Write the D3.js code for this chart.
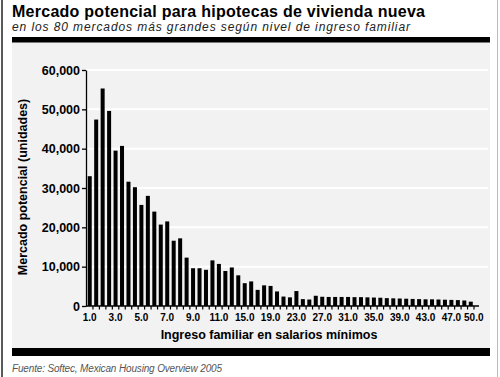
<!DOCTYPE html>
<html>
<head>
<meta charset="utf-8">
<script src="https://cdn.jsdelivr.net/npm/d3@7"></script>
<style>
  html, body { margin: 0; padding: 0; background: #fff; }
  svg { display: block; }
  text { font-family: "Liberation Sans", Arial, Helvetica, sans-serif; }
</style>
</head>
<body>
<svg id="chart" width="500" height="377"></svg>
<script>
// ---- data ----
const categories = [
  "1.0","1.5","2.0","2.5","3.0","3.5","4.0","4.5","5.0","5.5",
  "6.0","6.5","7.0","7.5","8.0","8.5","9.0","9.5","10.0","10.5","11.0",
  "12.0","13.0","14.0","15.0","16.0","17.0","18.0","19.0","20.0",
  "21.0","22.0","23.0","24.0","25.0","26.0","27.0","28.0","29.0","30.0",
  "31.0","32.0","33.0","34.0","35.0","36.0","37.0","38.0","39.0","40.0",
  "41.0","42.0","43.0","44.0","45.0","46.0","47.0","48.0","49.0","50.0"
];
const values = [
  33000, 47400, 55300, 49600, 39500, 40700, 31600, 30200, 25700, 28000,
  24000, 20700, 21500, 16600, 17200, 12300, 9600, 9600, 9200, 11600, 10700,
  8900, 9800, 7800, 5800, 6250, 4100, 5250, 5100, 3700,
  2400, 2200, 3800, 1750, 1650, 2600, 2350, 2300, 2300, 2300,
  2300, 2250, 2250, 2200, 2150, 2100, 2000, 1950, 1900, 1850,
  1800, 1750, 1700, 1700, 1650, 1600, 1550, 1500, 1400, 1100
];
const xTickLabels = ["1.0","3.0","5.0","7.0","9.0","11.0","15.0","19.0","23.0","27.0",
                     "31.0","35.0","39.0","43.0","47.0","50.0"];
const yTicks = [0, 10000, 20000, 30000, 40000, 50000, 60000];

const title = "Mercado potencial para hipotecas de vivienda nueva";
const subtitle = "en los 80 mercados más grandes según nivel de ingreso familiar";
const xTitle = "Ingreso familiar en salarios mínimos";
const yTitle = "Mercado potencial (unidades)";
const source = "Fuente: Softec, Mexican Housing Overview 2005";

// ---- drawing ----
const svg = d3.select("#chart");

// frame lines
svg.append("line").attr("x1", 2).attr("x2", 2).attr("y1", 0).attr("y2", 377)
  .attr("stroke", "#222").attr("stroke-width", 1.5);
svg.append("line").attr("x1", 497.5).attr("x2", 497.5).attr("y1", 0).attr("y2", 377)
  .attr("stroke", "#bbb").attr("stroke-width", 1);

// gray panel
svg.append("rect").attr("x", 12).attr("y", 42).attr("width", 478).attr("height", 306)
  .attr("fill", "#f2f2f2");

// thick black bars
svg.append("rect").attr("x", 12).attr("y", 37).attr("width", 478).attr("height", 5.5).attr("fill", "#000");
svg.append("rect").attr("x", 12).attr("y", 348).attr("width", 478).attr("height", 8).attr("fill", "#000");

// titles
svg.append("text").attr("x", 12).attr("y", 16.5)
  .attr("font-size", 16).attr("font-weight", "bold").attr("fill", "#000")
  .attr("textLength", 413).attr("lengthAdjust", "spacing").text(title);
svg.append("text").attr("x", 12).attr("y", 30.5)
  .attr("font-size", 12).attr("font-style", "italic").attr("fill", "#222")
  .attr("textLength", 398).attr("lengthAdjust", "spacing").text(subtitle);
svg.append("text").attr("x", 12).attr("y", 372)
  .attr("font-size", 10).attr("font-style", "italic").attr("fill", "#555")
  .attr("textLength", 210).attr("lengthAdjust", "spacing").text(source);

// scales
const x = d3.scaleBand().domain(categories).range([86.5, 474]).paddingInner(0.38).paddingOuter(0.19);
const y = d3.scaleLinear().domain([0, 60000]).range([306, 70]);

// gridlines
svg.append("g").selectAll("line").data(yTicks.filter(d => d > 0)).join("line")
  .attr("x1", 86).attr("x2", 488)
  .attr("y1", d => y(d)).attr("y2", d => y(d))
  .attr("stroke", "#fff").attr("stroke-width", 2);

// bars
svg.append("g").selectAll("rect").data(categories).join("rect")
  .attr("x", d => x(d))
  .attr("width", x.bandwidth())
  .attr("y", (d, i) => y(values[i]))
  .attr("height", (d, i) => y(0) - y(values[i]))
  .attr("fill", "#000");

// y axis
const yAxis = d3.axisLeft(y).tickValues(yTicks).tickSize(4).tickSizeOuter(0)
  .tickFormat(d3.format(","));
const gy = svg.append("g").attr("transform", "translate(86,0)").call(yAxis);
gy.select(".domain").attr("stroke", "#000").attr("stroke-width", 1.3);
gy.selectAll(".tick line").attr("stroke", "#000").attr("stroke-width", 1.3);
gy.selectAll(".tick text").attr("font-family", "Liberation Sans, Arial, sans-serif")
  .attr("font-size", 12.5).attr("font-weight", "bold").attr("fill", "#000").attr("x", -6);

// x axis
const xAxis = d3.axisBottom(x).tickValues(xTickLabels).tickSize(0).tickSizeOuter(0);
const gx = svg.append("g").attr("transform", "translate(0,306)").call(xAxis);
gx.select(".domain").attr("d", "M86,0H479").attr("stroke", "#000").attr("stroke-width", 1.3);
gx.selectAll(".tick text").attr("font-family", "Liberation Sans, Arial, sans-serif")
  .attr("font-size", 10).attr("font-weight", "bold").attr("fill", "#000").attr("y", 8);
gx.selectAll(".tick").filter(d => d === "50.0").attr("transform", "translate(" + (x("50.0") + x.bandwidth() / 2 + 3) + ",0)");
// small tick marks between categories
const step = x.step();
svg.append("g").selectAll("line").data(categories).join("line")
  .attr("x1", d => x(d) + x.bandwidth() + (step - x.bandwidth()) / 2)
  .attr("x2", d => x(d) + x.bandwidth() + (step - x.bandwidth()) / 2)
  .attr("y1", 306).attr("y2", 309.5)
  .attr("stroke", "#000").attr("stroke-width", 1.2);

// axis titles
svg.append("text").attr("x", 269).attr("y", 339).attr("text-anchor", "middle")
  .attr("font-size", 12.5).attr("font-weight", "bold").attr("fill", "#000").text(xTitle);
svg.append("text").attr("transform", "translate(27,187) rotate(-90)").attr("text-anchor", "middle")
  .attr("font-size", 12.5).attr("font-weight", "bold").attr("fill", "#000").text(yTitle);
</script>
</body>
</html>
